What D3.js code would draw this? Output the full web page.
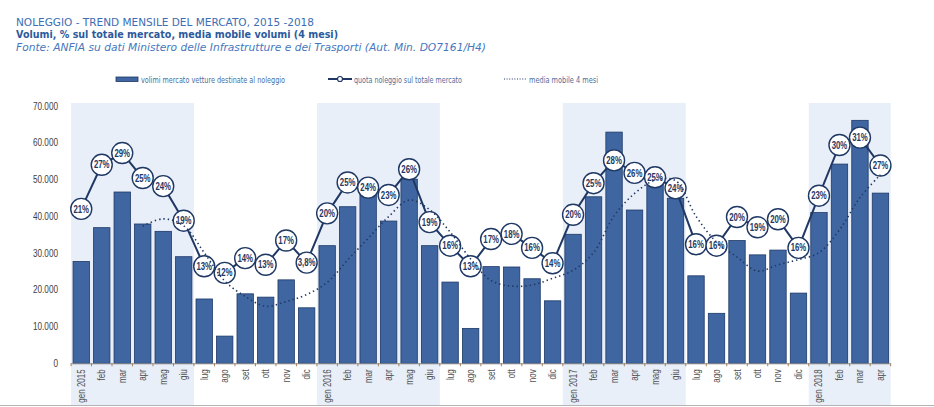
<!DOCTYPE html>
<html>
<head>
<meta charset="utf-8">
<script src="https://cdn.jsdelivr.net/npm/d3@7"></script>
<style>
  body { margin: 0; background: #fff; }
  svg { display: block; }
  .narrow { font-family: "Liberation Sans", Arial, sans-serif; }
</style>
</head>
<body>
<div id="wrapper"></div>
<script>
// mesi (gen 2015 - apr 2018)
const mesi = ["gen 2015","feb","mar","apr","mag","giu","lug","ago","set","ott","nov","dic",
              "gen 2016","feb","mar","apr","mag","giu","lug","ago","set","ott","nov","dic",
              "gen 2017","feb","mar","apr","mag","giu","lug","ago","set","ott","nov","dic",
              "gen 2018","feb","mar","apr"];

// volumi mercato vetture destinate al noleggio
const volumi = [27700, 36900, 46600, 37900, 35900, 29000, 17500, 7400, 18900, 18000, 22700, 15100,
                32000, 42600, 46400, 38700, 50100, 32000, 22100, 9500, 26300, 26200, 23000, 17000,
                35100, 45300, 62900, 41700, 49500, 44900, 23800, 13600, 33400, 29500, 30800, 19100,
                41000, 54200, 66100, 46300];

// quota noleggio sul totale mercato (%)
const quota = [21.0, 27.0, 28.6, 25.2, 24.1, 19.4, 13.2, 12.3, 14.3, 13.4, 16.7, 13.7,
               20.4, 24.6, 23.9, 22.9, 26.4, 19.2, 16.0, 13.2, 16.9, 17.6, 15.7, 13.6,
               20.2, 24.5, 27.6, 25.9, 25.3, 23.8, 16.2, 16.0, 19.9, 18.5, 19.6, 15.7,
               22.8, 29.7, 30.7, 26.9];

// etichette della quota come nel grafico
const quotaLabel = ["21%","27%","29%","25%","24%","19%","13%","12%","14%","13%","17%","3,8%",
                    "20%","25%","24%","23%","26%","19%","16%","13%","17%","18%","16%","14%",
                    "20%","25%","28%","26%","25%","24%","16%","16%","20%","19%","20%","16%",
                    "23%","30%","31%","27%"];

// media mobile 4 mesi
const mediaMobile = [null, null, null, 37300, 39300, 37400, 30100, 22400, 18200, 15500, 16800, 18700,
                     22000, 28100, 34000, 39900, 44400, 41800, 35700, 28400, 22500, 21000, 21300, 23100,
                     25300, 30100, 40100, 46200, 49800, 49700, 40000, 33000, 28900, 25100, 26800, 28200,
                     30100, 36300, 45100, 51300];

const yTicks = [0, 10000, 20000, 30000, 40000, 50000, 60000, 70000];

// semestri evidenziati (indice inizio, fine)
const bande = [[0, 6], [12, 18], [24, 30], [36, 40]];

const W = 934, H = 407;
const plot = { left: 71, right: 890.7, top: 106, bottom: 363.3 };

const it = d3.formatLocale({ decimal: ",", thousands: ".", grouping: [3], currency: ["€", ""] });
const fmt = it.format(",d");

// comprime il testo come un carattere "narrow"
function narrow(sel, k) {
    sel.each(function() {
        const l = this.getComputedTextLength();
        this.setAttribute("textLength", l * k);
        this.setAttribute("lengthAdjust", "spacingAndGlyphs");
    });
}

const svg = d3.select("#wrapper").append("svg")
    .attr("width", W)
    .attr("height", H);

// titoli
const titles = svg.append("g").style("font-family", "'DejaVu Sans', Verdana, sans-serif");
titles.append("text").attr("x", 16).attr("y", 26)
    .attr("font-size", 10.5).attr("fill", "#3d6db3")
    .attr("textLength", 298).attr("lengthAdjust", "spacingAndGlyphs")
    .text("NOLEGGIO - TREND MENSILE DEL MERCATO, 2015 -2018");
titles.append("text").attr("x", 16).attr("y", 38)
    .attr("font-size", 10.5).attr("font-weight", "bold").attr("fill", "#2c5a9c")
    .attr("textLength", 322).attr("lengthAdjust", "spacingAndGlyphs")
    .text("Volumi, % sul totale mercato, media mobile volumi (4 mesi)");
titles.append("text").attr("x", 16).attr("y", 50.5)
    .attr("font-size", 10.5).attr("font-style", "italic").attr("fill", "#4677bd")
    .attr("textLength", 470).attr("lengthAdjust", "spacingAndGlyphs")
    .text("Fonte: ANFIA su dati Ministero delle Infrastrutture e dei Trasporti (Aut. Min. DO7161/H4)");

// scale
const x = d3.scaleBand()
    .domain(d3.range(mesi.length))
    .range([plot.left, plot.right])
    .paddingInner(0.2)
    .paddingOuter(0.1);
const step = x.step();
const cx = i => x(i) + x.bandwidth() / 2;

const y = d3.scaleLinear().domain([0, 70000]).range([plot.bottom, plot.top]);
const y2 = d3.scaleLinear().domain([0, 35]).range([plot.bottom, plot.top]);

// bande semestrali
svg.append("g").selectAll("rect")
    .data(bande)
    .enter()
    .append("rect")
    .attr("x", d => x(d[0]) - step * 0.1)
    .attr("width", d => (d[1] - d[0]) * step)
    .attr("y", 103)
    .attr("height", 302)
    .attr("fill", "#e9eff9");

// linea di bordo in basso
svg.append("line")
    .attr("x1", 0).attr("x2", W)
    .attr("y1", 405.5).attr("y2", 405.5)
    .attr("stroke", "#b4b4b4");

// asse y
const yAxis = svg.append("g")
    .attr("class", "narrow")
    .attr("transform", `translate(${plot.left - 13},0)`)
    .call(d3.axisLeft(y).tickValues(yTicks).tickFormat(fmt).tickSize(0).tickPadding(0));
yAxis.select(".domain").remove();
yAxis.selectAll("text").attr("font-size", 10).attr("fill", "#404040").attr("font-family", null)
    .call(narrow, 0.82);

// barre
svg.append("g").selectAll("rect")
    .data(volumi)
    .enter()
    .append("rect")
    .attr("x", (d, i) => x(i))
    .attr("width", x.bandwidth())
    .attr("y", d => y(d))
    .attr("height", d => plot.bottom - y(d))
    .attr("fill", "#3f66a1")
    .attr("stroke", "#1d3867")
    .attr("stroke-width", 0.8);

// asse x
const ax = svg.append("g");
ax.append("line")
    .attr("x1", plot.left).attr("x2", plot.right)
    .attr("y1", plot.bottom + 0.5).attr("y2", plot.bottom + 0.5)
    .attr("stroke", "#8c8c8c");
ax.selectAll("line.tick")
    .data(d3.range(mesi.length + 1))
    .enter()
    .append("line")
    .attr("class", "tick")
    .attr("x1", i => plot.left + i * step).attr("x2", i => plot.left + i * step)
    .attr("y1", plot.bottom).attr("y2", plot.bottom + 3)
    .attr("stroke", "#a08060");
ax.selectAll("text")
    .data(mesi)
    .enter()
    .append("text")
    .attr("class", "narrow")
    .attr("font-size", 10)
    .attr("fill", "#505050")
    .attr("text-anchor", "end")
    .attr("transform", (d, i) => `translate(${cx(i) + 3.5},${plot.bottom + 6}) rotate(-90)`)
    .text(d => d)
    .call(narrow, 0.8);

// linea quota
svg.append("path")
    .datum(quota)
    .attr("fill", "none")
    .attr("stroke", "#1f3864")
    .attr("stroke-width", 2)
    .attr("d", d3.line().x((d, i) => cx(i)).y(d => y2(d)));

const pts = svg.append("g").selectAll("g")
    .data(quota)
    .enter()
    .append("g")
    .attr("transform", (d, i) => `translate(${cx(i)},${y2(d)})`);
pts.append("circle")
    .attr("r", 10.5)
    .attr("fill", "#fff")
    .attr("stroke", "#1f3864")
    .attr("stroke-width", 1.4);
pts.append("text")
    .attr("class", "narrow")
    .attr("font-size", 10)
    .attr("font-weight", "bold")
    .attr("fill", "#1f3864")
    .attr("text-anchor", "middle")
    .attr("dy", "0.36em")
    .text((d, i) => quotaLabel[i])
    .call(narrow, 0.78);

// media mobile
svg.append("path")
    .datum(mediaMobile)
    .attr("fill", "none")
    .attr("stroke", "#1f3864")
    .attr("stroke-width", 1.6)
    .attr("stroke-dasharray", "1.4,3")
    .attr("d", d3.line()
        .defined(d => d !== null)
        .curve(d3.curveCatmullRom)
        .x((d, i) => cx(i))
        .y(d => y(d)));

// legenda
const leg = svg.append("g").style("font-family", "'DejaVu Sans', Verdana, sans-serif");
leg.append("rect")
    .attr("x", 116).attr("y", 77).attr("width", 22).attr("height", 4.5)
    .attr("fill", "#3f66a1").attr("stroke", "#1d3867").attr("stroke-width", 0.8);
leg.append("text").attr("x", 141).attr("y", 82.5)
    .attr("font-size", 9).attr("fill", "#4d6e9c")
    .attr("textLength", 144).attr("lengthAdjust", "spacingAndGlyphs")
    .text("volimi mercato vetture destinate al noleggio");
leg.append("line")
    .attr("x1", 328).attr("x2", 352).attr("y1", 79).attr("y2", 79)
    .attr("stroke", "#1f3864").attr("stroke-width", 2);
leg.append("circle")
    .attr("cx", 340).attr("cy", 79).attr("r", 2.5)
    .attr("fill", "#fff").attr("stroke", "#1f3864").attr("stroke-width", 1.2);
leg.append("text").attr("x", 354).attr("y", 82.5)
    .attr("font-size", 9).attr("fill", "#4d6e9c")
    .attr("textLength", 108).attr("lengthAdjust", "spacingAndGlyphs")
    .text("quota noleggio sul totale mercato");
leg.append("line")
    .attr("x1", 504).attr("x2", 526).attr("y1", 79).attr("y2", 79)
    .attr("stroke", "#1f3864").attr("stroke-width", 1.2)
    .attr("stroke-dasharray", "1,1.6");
leg.append("text").attr("x", 529).attr("y", 82.5)
    .attr("font-size", 9).attr("fill", "#4d6e9c")
    .attr("textLength", 69).attr("lengthAdjust", "spacingAndGlyphs")
    .text("media mobile 4 mesi");
</script>
</body>
</html>
